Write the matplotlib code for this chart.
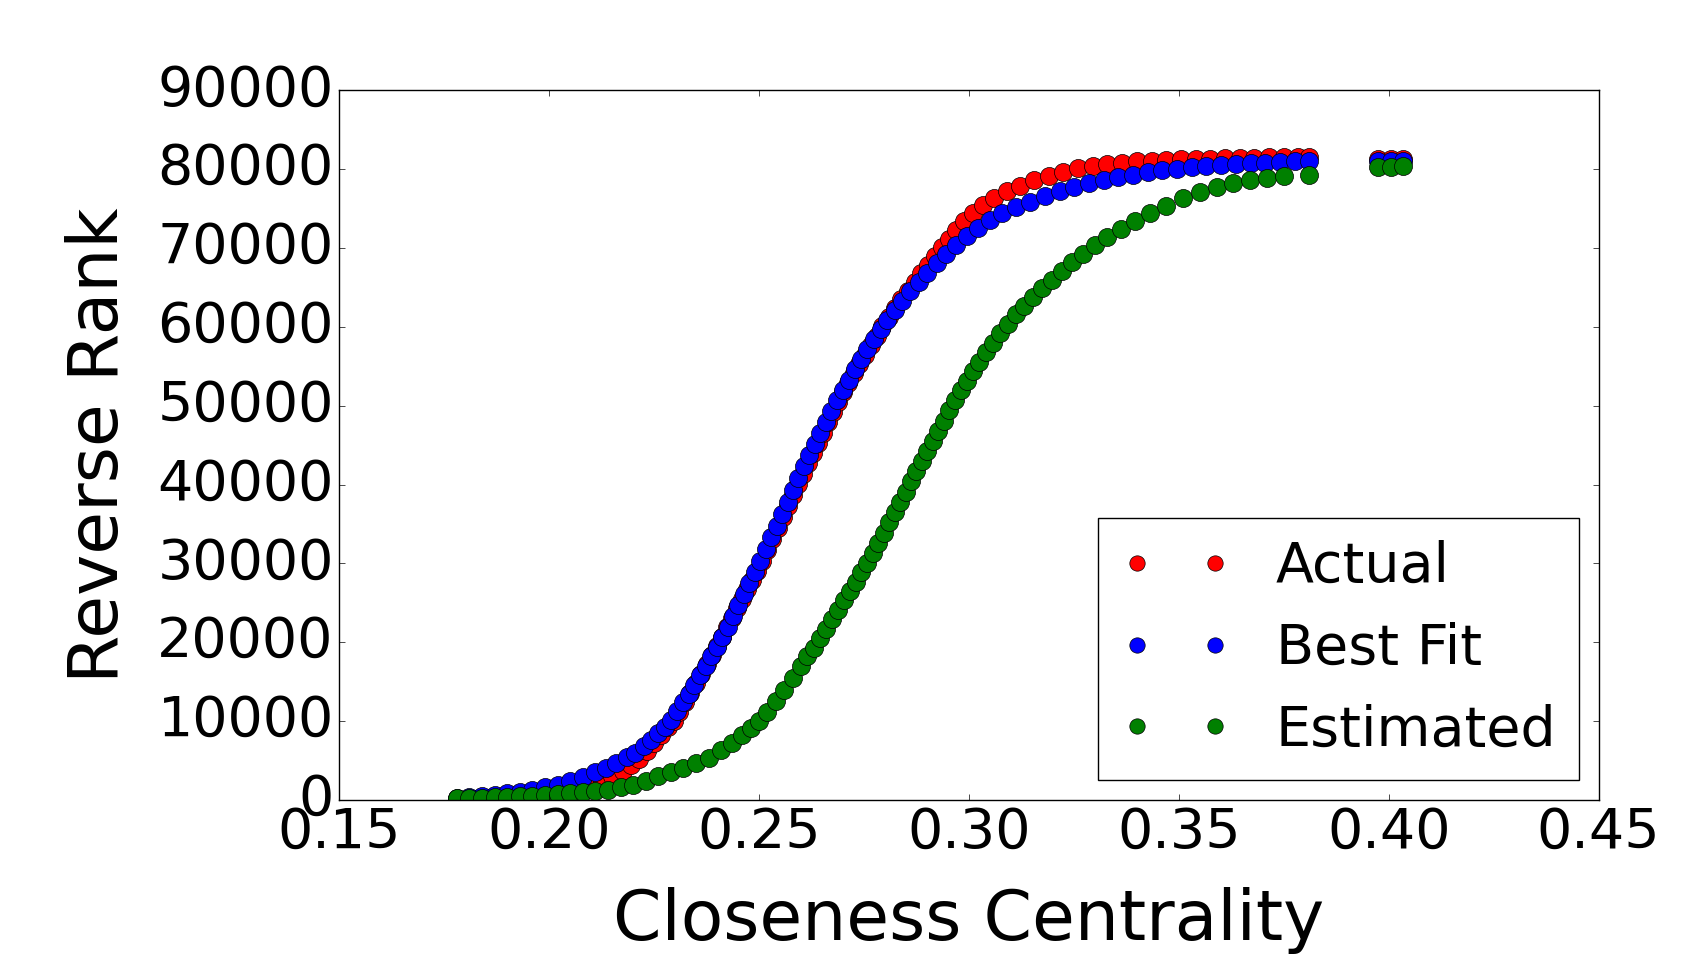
import matplotlib
matplotlib.use('Agg')
import matplotlib.pyplot as plt

plt.style.use('classic')

# Actual (red)
actual_x = [0.178, 0.182, 0.186, 0.190, 0.194, 0.198, 0.201, 0.204, 0.207, 0.210,
            0.2125, 0.215, 0.2175, 0.2195, 0.2215, 0.2233, 0.225, 0.2266, 0.2282, 0.2297,
            0.2310, 0.2323, 0.2336, 0.2349, 0.2362, 0.2375, 0.2388, 0.2400, 0.2412, 0.2424,
            0.2436, 0.2448, 0.2460, 0.2472, 0.2484, 0.2496, 0.2508, 0.2520, 0.2532, 0.2544,
            0.2556, 0.2568, 0.2580, 0.2592, 0.2604, 0.2616, 0.2628, 0.2640, 0.2652, 0.2664,
            0.2676, 0.2688, 0.2700, 0.2713, 0.2726, 0.2739, 0.2752, 0.2766, 0.2780, 0.2794,
            0.2809, 0.2824, 0.2839, 0.2855, 0.2871, 0.2887, 0.2903, 0.2919, 0.2935, 0.2952,
            0.2970, 0.2989, 0.3010, 0.3034, 0.3060, 0.3090, 0.3122, 0.3155, 0.319, 0.3225,
            0.326, 0.3295, 0.333, 0.3365, 0.340, 0.3435, 0.347, 0.3505, 0.354, 0.3575,
            0.361, 0.3645, 0.368, 0.3715, 0.375, 0.3785, 0.381,
            0.3975, 0.4005, 0.4035]
actual_y = [100, 180, 280, 400, 560, 780, 1000, 1250, 1550, 1950,
            2450, 3050, 3700, 4400, 5250, 6200, 7250, 8300, 9200, 10000,
            11200, 12400, 13600, 14800, 16000, 17200, 18400, 19500, 20700, 21900,
            23100, 24300, 25500, 26700, 27900, 29100, 30300, 31700, 33100, 34500,
            35900, 37300, 38700, 40100, 41400, 42700, 44000, 45300, 46600, 47900,
            49200, 50500, 51700, 52900, 54100, 55300, 56500, 57700, 58900, 60100,
            61300, 62400, 63500, 64600, 65700, 66800, 67900, 69000, 70100, 71200,
            72300, 73400, 74500, 75500, 76400, 77200, 77900, 78600, 79200, 79700,
            80100, 80400, 80650, 80850, 81000, 81100, 81200, 81250, 81300, 81350,
            81400, 81450, 81450, 81500, 81500, 81500, 81500,
            81300, 81300, 81300]

# Best Fit (blue)
best_x = [0.178, 0.181, 0.184, 0.187, 0.190, 0.193, 0.196, 0.199, 0.202, 0.205,
          0.208, 0.211, 0.2135, 0.216, 0.2185, 0.2205, 0.2225, 0.2243, 0.226, 0.2275,
          0.229, 0.2304, 0.2318, 0.2332, 0.2346, 0.236, 0.2373, 0.2386, 0.2399, 0.2412,
          0.2425, 0.2438, 0.2451, 0.2464, 0.2477, 0.2490, 0.2503, 0.2516, 0.2529, 0.2542,
          0.2555, 0.2568, 0.2581, 0.2594, 0.2607, 0.2620, 0.2633, 0.2646, 0.2659, 0.2672,
          0.2686, 0.2700, 0.2714, 0.2728, 0.2743, 0.2758, 0.2774, 0.2790, 0.2806, 0.2823,
          0.2841, 0.2860, 0.2880, 0.2901, 0.2923, 0.2946, 0.2970, 0.2995, 0.3022, 0.3050,
          0.3080, 0.3112, 0.3146, 0.3181, 0.3216, 0.3251, 0.3286, 0.3321, 0.3356, 0.3391,
          0.3426, 0.3461, 0.3496, 0.3531, 0.3566, 0.3601, 0.3636, 0.3671, 0.3706, 0.3741,
          0.3776, 0.381,
          0.3975, 0.4005, 0.4035]
best_y = [300, 420, 550, 680, 830, 1050, 1300, 1600, 1950, 2400,
          2900, 3500, 4100, 4700, 5400, 6000, 6800, 7600, 8500, 9300,
          10200, 11300, 12400, 13500, 14600, 15800, 17000, 18200, 19400, 20700,
          22000, 23300, 24700, 26100, 27500, 28900, 30300, 31800, 33300, 34800,
          36300, 37800, 39300, 40800, 42300, 43700, 45100, 46500, 47900, 49300,
          50700, 52000, 53300, 54600, 55900, 57200, 58500, 59700, 60900, 62100,
          63300, 64500, 65700, 66900, 68100, 69300, 70400, 71500, 72500, 73500,
          74400, 75200, 75900, 76600, 77200, 77700, 78200, 78600, 79000, 79300,
          79600, 79850, 80050, 80250, 80400, 80550, 80650, 80750, 80850, 80950,
          81000, 81050,
          81100, 81100, 81100]

# Estimated (green)
est_x = [0.178, 0.181, 0.184, 0.187, 0.190, 0.193, 0.196, 0.199, 0.202, 0.205,
         0.208, 0.211, 0.214, 0.217, 0.220, 0.223, 0.226, 0.229, 0.232, 0.235,
         0.238, 0.241, 0.2435, 0.246, 0.248, 0.250, 0.252, 0.254, 0.256, 0.258,
         0.260, 0.2615, 0.263, 0.2645, 0.266, 0.2674, 0.2688, 0.2702, 0.2716, 0.273,
         0.2744, 0.2758, 0.2771, 0.2784, 0.2797, 0.2810, 0.2823, 0.2836, 0.2849, 0.2862,
         0.2875, 0.2888, 0.2901, 0.2914, 0.2927, 0.2940, 0.2953, 0.2967, 0.2981, 0.2995,
         0.3010, 0.3025, 0.3041, 0.3057, 0.3074, 0.3092, 0.3111, 0.3131, 0.3152, 0.3174,
         0.3197, 0.3221, 0.3246, 0.3272, 0.3300, 0.3330, 0.3362, 0.3396, 0.3432, 0.3470,
         0.3510, 0.3550, 0.3590, 0.3630, 0.3670, 0.3710, 0.3750, 0.381,
         0.3975, 0.4005, 0.4035]
est_y = [200, 250, 300, 350, 400, 480, 560, 650, 750, 850,
         950, 1080, 1300, 1600, 1950, 2450, 3000, 3550, 4100, 4700,
         5300, 6300, 7200, 8200, 9100, 10000, 11200, 12600, 14000, 15500,
         17000, 18200, 19300, 20500, 21700, 22900, 24100, 25300, 26500, 27700,
         28900, 30100, 31300, 32600, 33900, 35200, 36500, 37800, 39100, 40400,
         41700, 43000, 44300, 45500, 46800, 48100, 49400, 50700, 52000, 53200,
         54400, 55600, 56800, 58000, 59200, 60400, 61600, 62700, 63800, 64900,
         66000, 67100, 68200, 69300, 70400, 71400, 72400, 73400, 74400, 75400,
         76300, 77100, 77700, 78200, 78600, 78900, 79100, 79300,
         80300, 80300, 80400]

fig = plt.figure(figsize=(16.88, 9.72), dpi=100)
fig.subplots_adjust(left=0.201, right=0.947, bottom=0.177, top=0.907)

plt.plot(actual_x, actual_y, 'ro', markersize=13, label='Actual')
plt.plot(best_x, best_y, 'bo', markersize=13, label='Best Fit')
plt.plot(est_x, est_y, 'go', markersize=13, label='Estimated')

plt.xlim(0.15, 0.45)
plt.ylim(0, 90000)
plt.xticks([0.15, 0.20, 0.25, 0.30, 0.35, 0.40, 0.45],
           ['0.15', '0.20', '0.25', '0.30', '0.35', '0.40', '0.45'], fontsize=40)
plt.yticks(fontsize=40)

plt.xlabel('Closeness Centrality', fontsize=50, labelpad=20)
plt.ylabel('Reverse Rank', fontsize=50, labelpad=18)

plt.legend(loc='lower right', fontsize=40, numpoints=2, markerscale=0.85,
           borderaxespad=0.36)

plt.savefig('out.png', dpi=100)
